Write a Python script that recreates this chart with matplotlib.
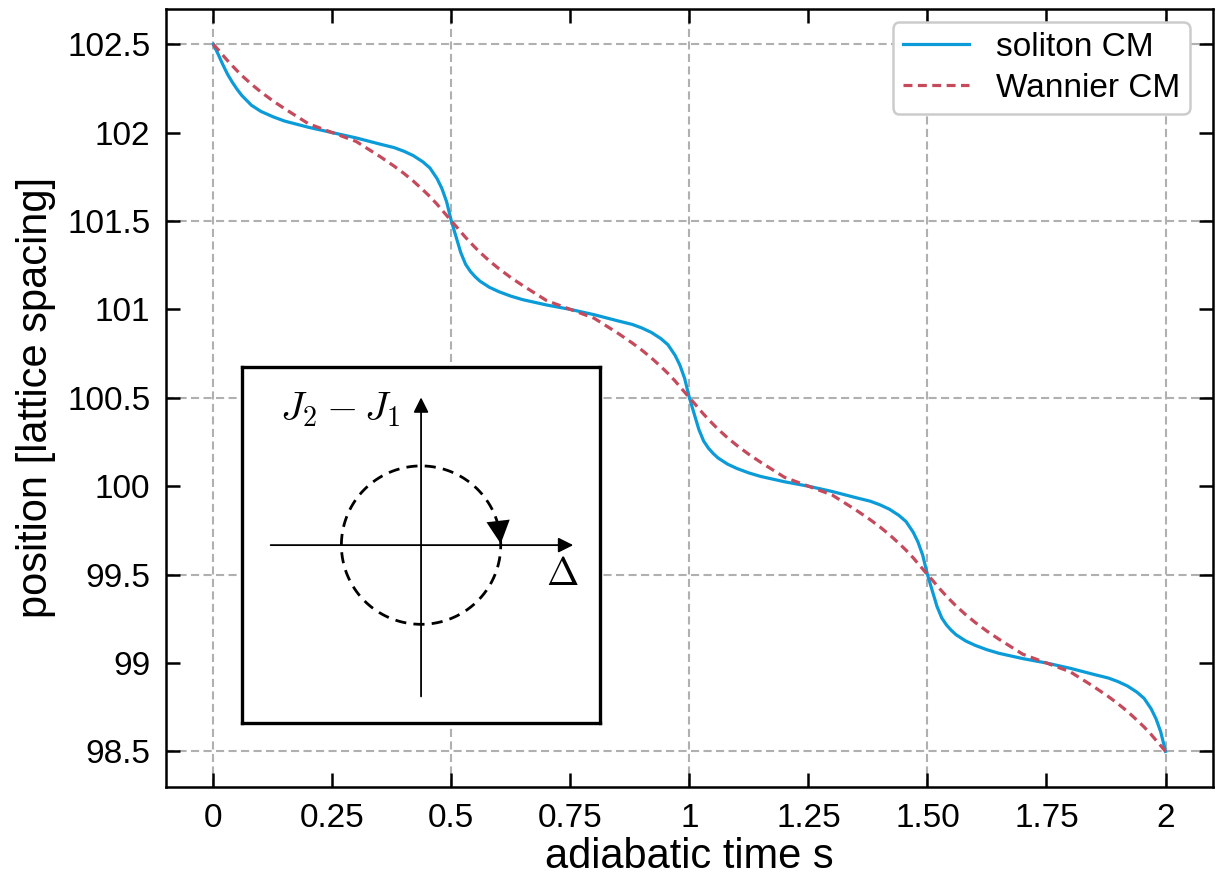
import numpy as np
import matplotlib
matplotlib.use("Agg")
import matplotlib.pyplot as plt

plt.rcParams['font.family'] = ['Liberation Sans', 'DejaVu Sans']
plt.rcParams['mathtext.fontset'] = 'cm'

# ---- data ----
s = [0.0, 0.01, 0.02, 0.03, 0.04, 0.05, 0.06, 0.08, 0.10, 0.125, 0.15, 0.2, 0.25, 0.3, 0.35, 0.38, 0.4, 0.42, 0.44, 0.455, 0.47, 0.48, 0.49,
     0.5, 0.51, 0.52, 0.53, 0.54, 0.55, 0.56, 0.58, 0.60, 0.625, 0.65, 0.7, 0.75, 0.8, 0.85, 0.88, 0.9, 0.92, 0.94, 0.955, 0.97, 0.98, 0.99,
     1.0, 1.01, 1.02, 1.03, 1.04, 1.05, 1.06, 1.08, 1.10, 1.125, 1.15, 1.2, 1.25, 1.3, 1.35, 1.38, 1.4, 1.42, 1.44, 1.455, 1.47, 1.48, 1.49,
     1.5, 1.51, 1.52, 1.53, 1.54, 1.55, 1.56, 1.58, 1.60, 1.625, 1.65, 1.7, 1.75, 1.8, 1.85, 1.88, 1.9, 1.92, 1.94, 1.955, 1.97, 1.98, 1.99,
     2.0]

soliton_cm = [102.5, 102.445, 102.385, 102.33, 102.285, 102.245, 102.21, 102.155, 102.12, 102.09, 102.065, 102.03, 102.0, 101.97, 101.935, 101.915, 101.895, 101.87, 101.835, 101.80, 101.74, 101.685, 101.61,
              101.5, 101.41, 101.32, 101.255, 101.215, 101.185, 101.16, 101.125, 101.10, 101.075, 101.055, 101.025, 101.0, 100.97, 100.935, 100.915, 100.895, 100.87, 100.835, 100.80, 100.74, 100.685, 100.61,
              100.5, 100.41, 100.32, 100.255, 100.215, 100.185, 100.16, 100.125, 100.10, 100.075, 100.055, 100.025, 100.0, 99.97, 99.935, 99.915, 99.895, 99.87, 99.835, 99.80, 99.74, 99.685, 99.61,
              99.5, 99.41, 99.32, 99.255, 99.215, 99.185, 99.16, 99.125, 99.10, 99.075, 99.055, 99.025, 99.0, 98.97, 98.935, 98.915, 98.895, 98.87, 98.835, 98.80, 98.74, 98.685, 98.61,
              98.5]

wannier_cm = [102.5, 102.47, 102.438, 102.407, 102.378, 102.35, 102.323, 102.274, 102.23, 102.18, 102.135, 102.05, 102.0, 101.95, 101.865, 101.81, 101.77, 101.726, 101.677, 101.638, 101.595, 101.563, 101.532,
              101.5, 101.47, 101.438, 101.407, 101.378, 101.35, 101.323, 101.274, 101.23, 101.18, 101.135, 101.05, 101.0, 100.95, 100.865, 100.81, 100.77, 100.726, 100.677, 100.638, 100.595, 100.563, 100.532,
              100.5, 100.47, 100.438, 100.407, 100.378, 100.35, 100.323, 100.274, 100.23, 100.18, 100.135, 100.05, 100.0, 99.95, 99.865, 99.81, 99.77, 99.726, 99.677, 99.638, 99.595, 99.563, 99.532,
              99.5, 99.47, 99.438, 99.407, 99.378, 99.35, 99.323, 99.274, 99.23, 99.18, 99.135, 99.05, 99.0, 98.95, 98.865, 98.81, 98.77, 98.726, 98.677, 98.638, 98.595, 98.563, 98.532,
              98.5]

xticks = [0, 0.25, 0.5, 0.75, 1, 1.25, 1.5, 1.75, 2]
xticklabels = ['0', '0.25', '0.5', '0.75', '1', '1.25', '1.50', '1.75', '2']
yticks = [98.5, 99, 99.5, 100, 100.5, 101, 101.5, 102, 102.5]
yticklabels = ['98.5', '99', '99.5', '100', '100.5', '101', '101.5', '102', '102.5']
xgrid = [0, 0.5, 1, 1.5, 2]
ygrid = [98.5, 99.5, 100.5, 101.5, 102.5]

# ---- figure ----
fig = plt.figure(figsize=(12.18, 8.84), dpi=100)
ax = fig.add_axes([0.136, 0.110, 0.860, 0.880])

grid_style = dict(color='#b0b0b0', ls=(0, (3.9, 2.1)), lw=1.5, zorder=0)
for gx in xgrid:
    ax.axvline(gx, **grid_style)
for gy in ygrid:
    ax.axhline(gy, **grid_style)

ax.plot(s, soliton_cm, color='#0a9bd8', lw=2.3, label='soliton CM', zorder=3)
ax.plot(s, wannier_cm, color='#c44a5c', lw=2.3, ls=(0, (2.8, 1.7)), label='Wannier CM', zorder=3)

ax.set_xlim(-0.1, 2.1)
ax.set_ylim(98.3, 102.7)
ax.set_xticks(xticks)
ax.set_xticklabels(xticklabels)
ax.set_yticks(yticks)
ax.set_yticklabels(yticklabels)
ax.tick_params(which='major', direction='in', top=True, right=True, length=10, width=1.8,
               labelsize=24)
ax.tick_params(axis='y', pad=11)
ax.tick_params(axis='x', pad=12)
for sp in ax.spines.values():
    sp.set_linewidth(1.8)

ax.set_xlabel('adiabatic time s', fontsize=30, labelpad=2)
ax.set_ylabel('position [lattice spacing]', fontsize=30, labelpad=8)

leg = ax.legend(loc='upper right', fontsize=24, handlelength=2.0, frameon=True,
                fancybox=True, borderpad=0.3, labelspacing=0.3, handletextpad=0.8,
                borderaxespad=0, bbox_to_anchor=(0.978, 0.983))
leg.get_frame().set_edgecolor('#cccccc')
leg.get_frame().set_linewidth(1.8)
leg.get_frame().set_alpha(1.0)

# ---- inset diagram ----
ins = fig.add_axes([0.1987, 0.182, 0.294, 0.4027])
ins.set_xlim(-1, 1)
ins.set_ylim(-1, 1)
ins.set_xticks([])
ins.set_yticks([])
for sp in ins.spines.values():
    sp.set_linewidth(2.4)
ins.set_facecolor('white')
ins.set_zorder(5)

ins.annotate('', xy=(0.85, 0), xytext=(-0.84, 0),
             arrowprops=dict(arrowstyle='-|>,head_length=0.5,head_width=0.25', color='k', lw=1.3,
                             mutation_scale=18, shrinkA=0, shrinkB=0))
ins.annotate('', xy=(0, 0.83), xytext=(0, -0.85),
             arrowprops=dict(arrowstyle='-|>,head_length=0.5,head_width=0.25', color='k', lw=1.3,
                             mutation_scale=18, shrinkA=0, shrinkB=0))

r = 0.445
th = np.linspace(0, 2 * np.pi, 400)
ins.plot(r * np.cos(th), r * np.sin(th), color='k', lw=2.0, ls=(0, (4, 2.6)))
a_tip = np.deg2rad(1)
a_tail = np.deg2rad(12)
ins.annotate('', xy=(r * np.cos(a_tip), r * np.sin(a_tip)),
             xytext=(r * np.cos(a_tail), r * np.sin(a_tail)),
             arrowprops=dict(arrowstyle='-|>,head_length=0.55,head_width=0.28', color='k', lw=0.01,
                             mutation_scale=30, shrinkA=0, shrinkB=0))

ins.text(-0.45, 0.76, r'$J_2 - J_1$', fontsize=29, ha='center', va='center')
ins.text(0.79, -0.17, r'$\Delta$', fontsize=28, ha='center', va='center')

fig.savefig('out.png', dpi=100)
